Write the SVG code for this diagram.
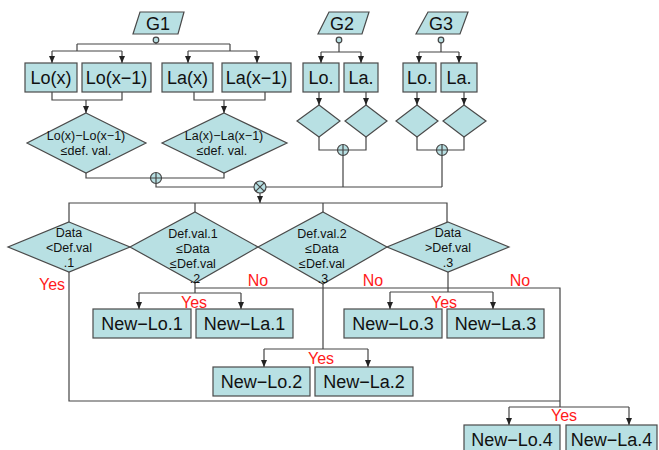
<svg xmlns="http://www.w3.org/2000/svg" width="659" height="450" viewBox="0 0 659 450">
<style>
.s{fill:#b8e0e3;stroke:#4a4a4a;stroke-width:1.2}
.t{font-family:"Liberation Sans",Arial,sans-serif;fill:#111;text-anchor:middle}
.b{font-size:18px}
.d{font-size:12.5px}
.r{font-family:"Liberation Sans",Arial,sans-serif;fill:#ff1a1a;font-size:16px;text-anchor:middle}
.c{fill:none;stroke:#444;stroke-width:1.2}
.a{fill:none;stroke:#444;stroke-width:1.2;marker-end:url(#ah)}
.o{fill:#b8e0e3;stroke:#444;stroke-width:1.2}
</style>
<defs>
<marker id="ah" markerWidth="7" markerHeight="6" refX="7" refY="3" orient="auto" markerUnits="userSpaceOnUse" viewBox="0 0 7 6">
<path d="M0,0 L7,3 L0,6 Z" fill="#222"/>
</marker>
</defs>
<rect width="659" height="450" fill="#fff"/>
<g id="connectors">
<path class="c" d="M156,42.5V44 M77,44H230 M77,44V51 M52,51H122 M230,44V51 M188,51H257"/>
<path class="a" d="M52,51V63"/><path class="a" d="M122,51V63"/>
<path class="a" d="M188,51V63"/><path class="a" d="M257,51V63"/>
<path class="c" d="M52,92V100H122V92 M194,92V100H265V92"/>
<path class="a" d="M86,100V113"/><path class="a" d="M224,100V113"/>
<path class="c" d="M86,173V178H224V173"/>
<path class="c" d="M156,183V187H254 M266,187H442 M343,155V187 M442,155V187"/>
<path class="a" d="M260,193V203"/>
<path class="c" d="M69,222V203H447V222 M195,203V212 M323,203V212"/>
<path class="c" d="M339,42.5V52 M321,52H361"/>
<path class="a" d="M321,52V63"/><path class="a" d="M361,52V63"/>
<path class="a" d="M319,92V105"/><path class="a" d="M366,92V105"/>
<path class="c" d="M319,137V150H366V137"/>
<path class="c" d="M441,42.5V52 M419,52H459"/>
<path class="a" d="M419,52V63"/><path class="a" d="M459,52V63"/>
<path class="a" d="M417,92V105"/><path class="a" d="M464,92V105"/>
<path class="c" d="M417,137V150H464V137"/>
<path class="c" d="M69,272V401H560 M195,283V293 M139,293H241 M195,288H560V407 M509,407H629"/>
<path class="a" d="M139,293V309"/><path class="a" d="M241,293V309"/>
<path class="c" d="M323,284V349 M264,349H368"/>
<path class="a" d="M264,349V367"/><path class="a" d="M368,349V367"/>
<path class="c" d="M448,272V292 M390,292H493"/>
<path class="a" d="M390,292V309"/><path class="a" d="M493,292V309"/>
<path class="a" d="M509,407V425"/><path class="a" d="M629,407V425"/>
</g>
<g id="junctions">
<circle class="o" cx="156" cy="40" r="2.8"/>
<circle class="o" cx="339" cy="40" r="2.8"/>
<circle class="o" cx="441" cy="40" r="2.8"/>
<g id="plus1"><circle class="o" cx="156" cy="178" r="5.5"/><path class="c" d="M150.5,178H161.5M156,172.5V183.5"/></g>
<g id="plus2"><circle class="o" cx="343" cy="150" r="5.5"/><path class="c" d="M337.5,150H348.5M343,144.5V155.5"/></g>
<g id="plus3"><circle class="o" cx="442" cy="150" r="5.5"/><path class="c" d="M436.5,150H447.5M442,144.5V155.5"/></g>
<g id="cross"><circle class="o" cx="260" cy="187" r="6"/><path class="c" d="M255.8,182.8L264.2,191.2M264.2,182.8L255.8,191.2"/></g>
</g>
<g id="G1"><polygon class="s" points="140,12 184,12 178,34 133,34"/><text class="t" x="158" y="30" font-size="18">G1</text></g>
<g id="G2"><polygon class="s" points="329,12 369,12 362,34 318,34"/><text class="t" x="342" y="30" font-size="18">G2</text></g>
<g id="G3"><polygon class="s" points="428,12 468,12 460,34 416,34"/><text class="t" x="441" y="30" font-size="18">G3</text></g>
<g id="Lox"><rect class="s" x="25" y="63" width="52" height="29"/><text class="t b" x="51" y="84">Lo(x)</text></g>
<g id="Lox1"><rect class="s" x="82" y="63" width="69" height="29"/><text class="t b" x="116.5" y="84">Lo(x−1)</text></g>
<g id="Lax"><rect class="s" x="162" y="63" width="51" height="29"/><text class="t b" x="187.5" y="84">La(x)</text></g>
<g id="Lax1"><rect class="s" x="222" y="63" width="69" height="29"/><text class="t b" x="256.5" y="84">La(x−1)</text></g>
<g id="G2Lo"><rect class="s" x="303" y="63" width="36" height="29"/><text class="t b" x="321" y="84">Lo.</text></g>
<g id="G2La"><rect class="s" x="344" y="63" width="34" height="29"/><text class="t b" x="361" y="84">La.</text></g>
<g id="G3Lo"><rect class="s" x="403" y="63" width="33" height="29"/><text class="t b" x="419.5" y="84">Lo.</text></g>
<g id="G3La"><rect class="s" x="441" y="63" width="36" height="29"/><text class="t b" x="459" y="84">La.</text></g>
<g id="dLo"><polygon class="s" points="86,113 146,143 86,173 27,143"/><text class="t d" x="86" y="140">Lo(x)−Lo(x−1)</text><text class="t d" x="86" y="155">≤def. val.</text></g>
<g id="dLa"><polygon class="s" points="224,113 287,143 224,173 162,143"/><text class="t d" x="224" y="140">La(x)−La(x−1)</text><text class="t d" x="222" y="155">≤def. val.</text></g>
<g id="d2a"><polygon class="s" points="319,105 340,121 319,137 297,121"/></g>
<g id="d2b"><polygon class="s" points="366,105 387,121 366,137 345,121"/></g>
<g id="d3a"><polygon class="s" points="417,105 438,121 417,137 396,121"/></g>
<g id="d3b"><polygon class="s" points="464,105 486,121 464,137 443,121"/></g>
<g id="dA"><polygon class="s" points="69,222 130,247 69,272 8,247"/><text class="t d" x="69" y="237">Data</text><text class="t d" x="69" y="252">&lt;Def.val</text><text class="t d" x="69" y="267">.1</text></g>
<g id="dB"><polygon class="s" points="195,212 258,247 195,283 130,247"/><text class="t d" x="193" y="238">Def.val.1</text><text class="t d" x="193" y="253">≤Data</text><text class="t d" x="193" y="268">≤Def.val</text><text class="t d" x="195" y="283">.2</text></g>
<g id="dC"><polygon class="s" points="323,212 387,247 323,284 258,247"/><text class="t d" x="322" y="238">Def.val.2</text><text class="t d" x="322" y="253">≤Data</text><text class="t d" x="322" y="268">≤Def.val</text><text class="t d" x="323" y="283">.3</text></g>
<g id="dD"><polygon class="s" points="448,222 509,247 448,272 387,247"/><text class="t d" x="448" y="237">Data</text><text class="t d" x="448" y="252">&gt;Def.val</text><text class="t d" x="448" y="267">.3</text></g>
<g id="NLo1"><rect class="s" x="93" y="309" width="98" height="29"/><text class="t b" x="142" y="330">New−Lo.1</text></g>
<g id="NLa1"><rect class="s" x="196" y="309" width="97" height="29"/><text class="t b" x="244.5" y="330">New−La.1</text></g>
<g id="NLo3"><rect class="s" x="344" y="309" width="98" height="29"/><text class="t b" x="393" y="330">New−Lo.3</text></g>
<g id="NLa3"><rect class="s" x="447" y="309" width="97" height="29"/><text class="t b" x="495.5" y="330">New−La.3</text></g>
<g id="NLo2"><rect class="s" x="213" y="367" width="97" height="29"/><text class="t b" x="261.5" y="388">New−Lo.2</text></g>
<g id="NLa2"><rect class="s" x="315" y="367" width="98" height="29"/><text class="t b" x="364" y="388">New−La.2</text></g>
<g id="NLo4"><rect class="s" x="464" y="425" width="96" height="30"/><text class="t b" x="512" y="446">New−Lo.4</text></g>
<g id="NLa4"><rect class="s" x="566" y="425" width="91" height="30"/><text class="t b" x="611.5" y="446">New−La.4</text></g>
<g id="labels">
<text class="r" x="52" y="290">Yes</text>
<text class="r" x="258" y="286">No</text>
<text class="r" x="373" y="286">No</text>
<text class="r" x="520" y="286">No</text>
<text class="r" x="194" y="308">Yes</text>
<text class="r" x="444" y="308">Yes</text>
<text class="r" x="321" y="364">Yes</text>
<text class="r" x="564" y="421">Yes</text>
</g>
</svg>
